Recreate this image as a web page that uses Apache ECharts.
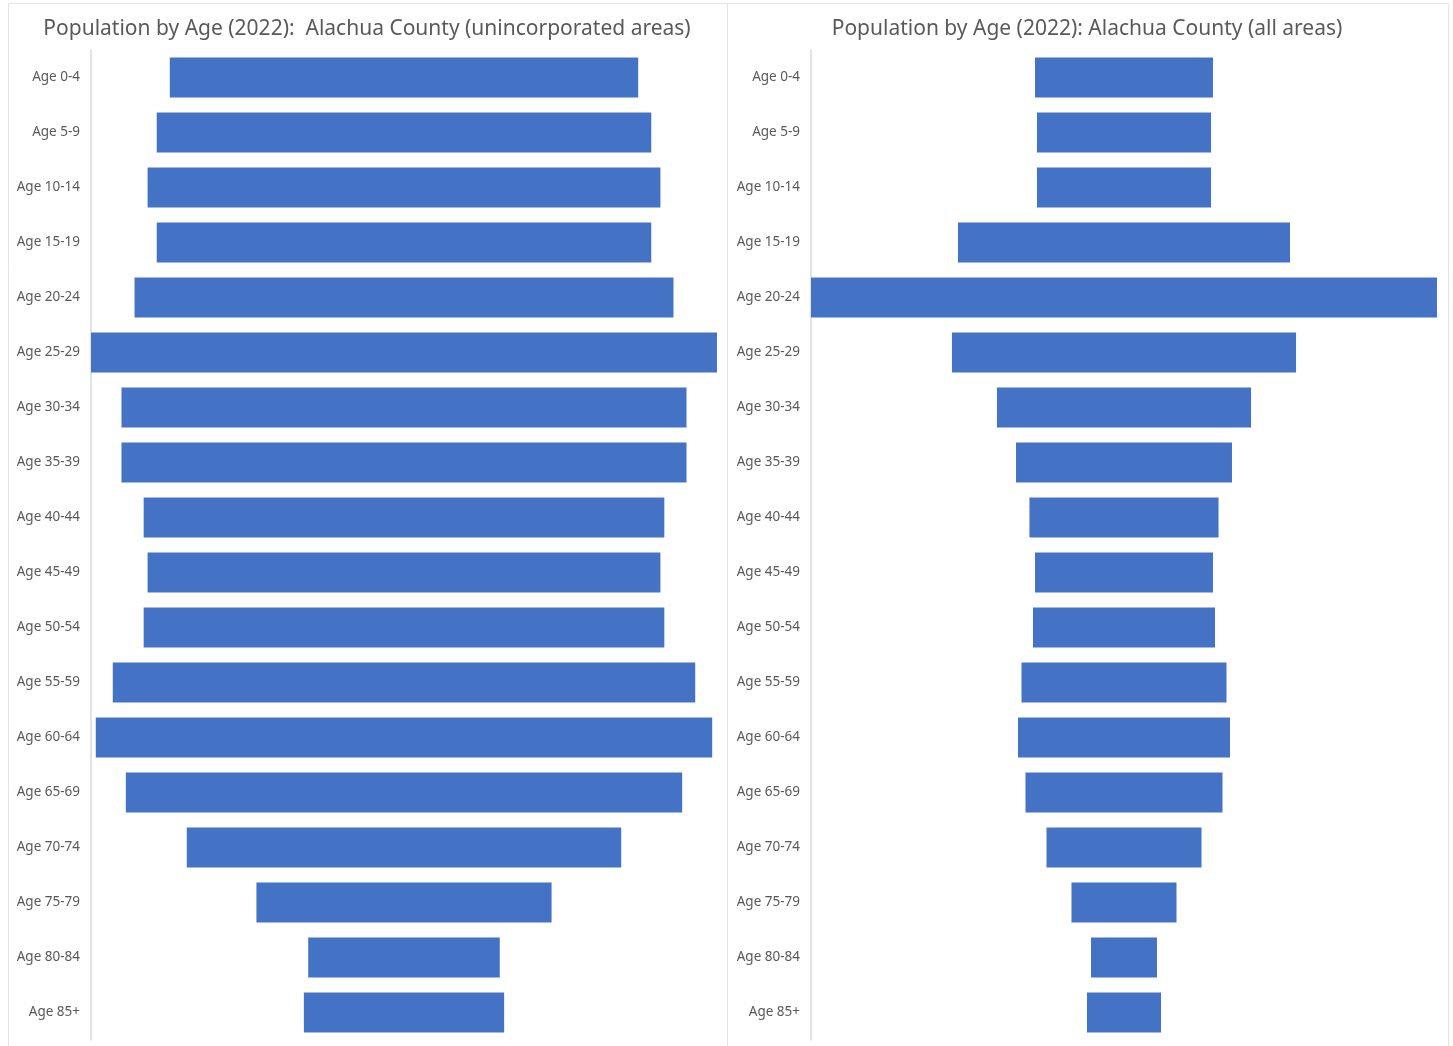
<!DOCTYPE html>
<html>
<head>
<meta charset="utf-8">
<script src="https://cdn.jsdelivr.net/npm/echarts@6/dist/echarts.min.js"></script>
<style>
html,body{margin:0;padding:0;background:#fff;}
#chart{width:1453px;height:1046px;}
</style>
</head>
<body>
<div id="chart"></div>
<script>
const ageGroups = ['Age 0-4','Age 5-9','Age 10-14','Age 15-19','Age 20-24','Age 25-29','Age 30-34','Age 35-39','Age 40-44','Age 45-49','Age 50-54','Age 55-59','Age 60-64','Age 65-69','Age 70-74','Age 75-79','Age 80-84','Age 85+'];
const unincorporated = [5380,5680,5890,5680,6190,7190,6490,6490,5980,5890,5980,6690,7080,6390,4990,3390,2200,2300];
const allAreas = [11390,11140,11140,21250,40060,22020,16260,13820,12100,11390,11650,13120,13570,12610,9920,6720,4220,4740];
const titles = ['Population by Age (2022):  Alachua County (unincorporated areas)', 'Population by Age (2022): Alachua County (all areas)'];

const FONT = '"Noto Sans", "Open Sans", sans-serif';
const BAR = '#4472C4';

function offsets(arr){ const m = Math.max(...arr); return arr.map(v => (m - v) / 2); }

const panels = [unincorporated, allAreas];
const grids = [
  {left: 91, top: 50, width: 626, height: 990},
  {left: 811, top: 50, width: 626, height: 990}
];
const titleX = [362, 1082];

const option = {
  animation: false,
  backgroundColor: '#ffffff',
  graphic: [
    {type:'rect', shape:{x:8.5, y:3.5, width:719, height:1060}, style:{fill:'none', stroke:'#e4e4e4', lineWidth:1}, silent:true},
    {type:'rect', shape:{x:727.5, y:3.5, width:721, height:1060}, style:{fill:'none', stroke:'#e4e4e4', lineWidth:1}, silent:true}
  ],
  title: titles.map((t,i) => ({
    text: t, left: titleX[i], top: 14, textAlign: 'center',
    textStyle: {fontFamily: FONT, fontSize: 21, fontWeight: 'normal', color: '#595959'}
  })),
  grid: grids,
  xAxis: panels.map((arr,i) => ({type:'value', gridIndex:i, min:0, max:Math.max(...arr), show:false})),
  yAxis: panels.map((arr,i) => ({
    type:'category', gridIndex:i, data: ageGroups, inverse:true,
    axisLine:{show:true, lineStyle:{color:'#d9d9d9', width:1.5}},
    axisTick:{show:false},
    axisLabel:{color:'#595959', fontSize:13.5, margin:11, fontFamily: FONT},
    splitLine:{show:false}
  })),
  series: panels.flatMap((arr,i) => [
    {type:'bar', xAxisIndex:i, yAxisIndex:i, stack:'s'+i, data: offsets(arr), barWidth:40,
     itemStyle:{color:'transparent'}, silent:true},
    {type:'bar', xAxisIndex:i, yAxisIndex:i, stack:'s'+i, data: arr, barWidth:40,
     itemStyle:{color:BAR}}
  ])
};

echarts.init(document.getElementById('chart')).setOption(option);
</script>
</body>
</html>
